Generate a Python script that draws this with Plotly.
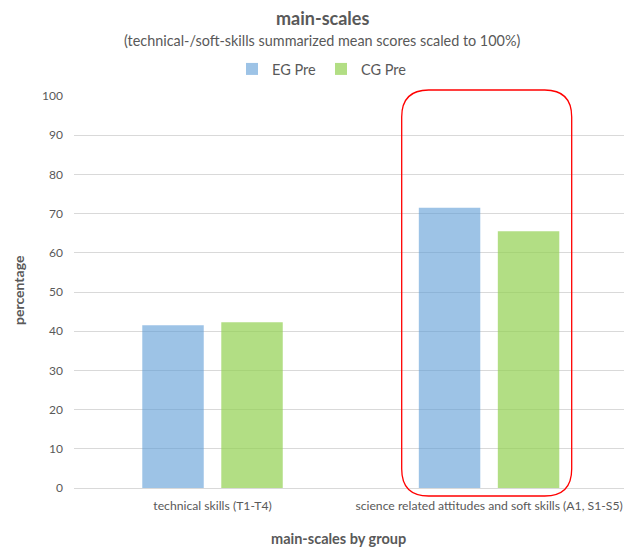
import plotly.graph_objects as go

# Data
categories = ["technical skills (T1-T4)",
              "science related attitudes and soft skills (A1, S1-S5)"]
eg_pre = [41.5, 71.5]
cg_pre = [42.3, 65.5]
y_ticks = list(range(0, 101, 10))

FONT = "Lato"
TXT = "#595959"
W, H = 624, 547
L, R, T, B = 74, 0, 96, 59
PW, PH = W - L - R, H - T - B


def px(x):
    return (x - L) / PW


def py(y):
    return (H - B - y) / PH


fig = go.Figure()
fig.add_trace(go.Bar(name="EG Pre", x=categories, y=eg_pre,
                     marker=dict(color="rgba(91,155,213,0.6)", line=dict(width=0))))
fig.add_trace(go.Bar(name="CG Pre", x=categories, y=cg_pre,
                     marker=dict(color="rgba(146,208,80,0.7)", line=dict(width=0))))

# Rounded highlight box around the second group (paper coordinates)
x0, x1 = px(401.7), px(571.7)
y0, y1 = py(496), py(90)
rx, ry = 27 / PW, 27 / PH
path = (f"M {x0+rx},{y1} L {x1-rx},{y1} Q {x1},{y1} {x1},{y1-ry} "
        f"L {x1},{y0+ry} Q {x1},{y0} {x1-rx},{y0} "
        f"L {x0+rx},{y0} Q {x0},{y0} {x0},{y0+ry} "
        f"L {x0},{y1-ry} Q {x0},{y1} {x0+rx},{y1} Z")
fig.add_shape(type="path", path=path, xref="paper", yref="paper",
              line=dict(color="#ff0000", width=1.3), layer="above")

fig.update_layout(
    width=W, height=H,
    margin=dict(l=L, r=R, t=T, b=B),
    paper_bgcolor="white", plot_bgcolor="white",
    font=dict(family=FONT, color=TXT, size=12),
    barmode="group", bargap=0.4286, bargroupgap=0.222,
    showlegend=True,
    legend=dict(orientation="h", xref="container", yref="container",
                x=322 / W, y=1 - 69 / H, xanchor="center", yanchor="middle",
                font=dict(size=14.5, color=TXT), itemwidth=30,
                traceorder="normal"),
    xaxis=dict(range=[-0.5009, 1.488], showgrid=False, showline=True,
               linecolor="#d9d9d9", linewidth=1, ticks="",
               ticklabelstandoff=6,
               tickfont=dict(size=12.2, color=TXT)),
    yaxis=dict(range=[0, 100], tickvals=y_ticks, showgrid=True,
               gridcolor="#d9d9d9", gridwidth=1, zeroline=False,
               showline=False, ticks="", ticklen=0, ticklabelstandoff=10,
               tickfont=dict(size=12, color=TXT)),
    annotations=[
        dict(text="<b>main-scales</b>", xref="paper", yref="paper",
             x=px(322), y=py(18), showarrow=False,
             font=dict(size=18, color=TXT), xanchor="center", yanchor="middle"),
        dict(text="(technical-/soft-skills summarized mean scores scaled to 100%)",
             xref="paper", yref="paper", x=px(322), y=py(40),
             showarrow=False, font=dict(size=14.4, color=TXT),
             xanchor="center", yanchor="middle"),
        dict(text="<b>percentage</b>", xref="paper", yref="paper",
             x=px(18), y=py(290), textangle=-90, showarrow=False,
             font=dict(size=14, color=TXT), xanchor="center", yanchor="middle"),
        dict(text="<b>main-scales by group</b>", xref="paper", yref="paper",
             x=px(338), y=py(538), showarrow=False,
             font=dict(size=14.5, color=TXT), xanchor="center", yanchor="middle"),
    ],
)

fig.write_html("out.html")
